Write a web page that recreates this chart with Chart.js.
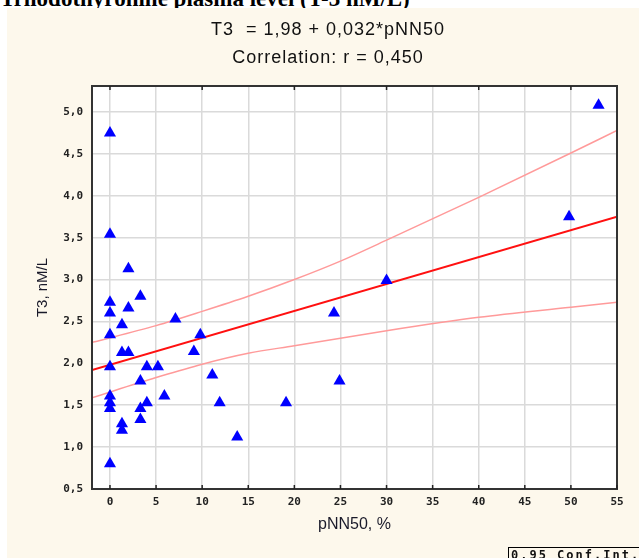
<!DOCTYPE html>
<html>
<head>
<meta charset="utf-8">
<script src="https://cdn.jsdelivr.net/npm/chart.js@4"></script>
<style>
  html, body { margin: 0; padding: 0; background: #fff; width: 639px; height: 558px; overflow: hidden; }
  #head { position: absolute; left: 0; top: -14px; font: bold 23px "Liberation Serif", serif; color: #000; white-space: nowrap; z-index: 0; }
  #wrap { position: absolute; left: 7px; top: 8px; width: 632px; height: 550px; background: #fdf8ec; z-index: 1; }
  #conf { position: absolute; left: 508px; top: 547px; border-top: 1px solid #000; border-left: 1px solid #000; padding: 0 0 0 2px; width: 140px;
          font: bold 12px "DejaVu Sans Mono", monospace; color: #111; z-index: 2; letter-spacing: 2px; line-height: 14px; }
</style>
</head>
<body>
<div id="head">Triiodothyronine plasma level (T-3 nM/L)</div>
<div id="wrap"><canvas id="c" width="632" height="550"></canvas></div>
<div id="conf">0,95 Conf.Int.</div>
<script>
const xTicks = [0, 5, 10, 15, 20, 25, 30, 35, 40, 45, 50, 55];
const yTicks = [0.5, 1.0, 1.5, 2.0, 2.5, 3.0, 3.5, 4.0, 4.5, 5.0];

// pNN50 (%) and T3 (nM/L) per patient
const pnn50 = [0, 0, 2.0, 0, 0, 3.3, 2.0, 1.3, 0, 7.1, 9.8, 1.3, 2.0, 9.1, 0, 4.0, 5.2, 3.3, 11.1,
  5.9, 0, 0, 0, 4.0, 3.3, 3.3, 11.9, 1.3, 1.3, 13.8, 0, 24.3, 24.9, 19.1, 30.0, 49.8, 53.0];
const t3 = [4.75, 3.54, 3.13, 2.73, 2.60, 2.80, 2.66, 2.46, 2.34, 2.53, 2.34, 2.13, 2.13, 2.14, 1.96, 1.96, 1.96, 1.79, 1.86,
  1.61, 1.61, 1.53, 1.46, 1.53, 1.46, 1.33, 1.53, 1.28, 1.20, 1.12, 0.80, 2.60, 1.79, 1.53, 2.99, 3.75, 5.08];

// regression line and 0.95 confidence band
const fitX = [-1.95, 55];
const fitY = [1.92, 3.75];
const bandX = [-1.95, 5, 10, 15, 20, 25, 30, 40, 50, 55];
const bandUpper = [2.25, 2.45, 2.62, 2.80, 3.00, 3.22, 3.47, 3.98, 4.51, 4.78];
const bandLower = [1.59, 1.83, 1.99, 2.12, 2.21, 2.30, 2.39, 2.55, 2.67, 2.73];

const pts = (xs, ys) => xs.map((x, i) => ({ x: x, y: ys[i] }));
const comma = v => String(v).replace('.', ',');

const frame = {
  id: 'frame',
  beforeDraw(chart) {
    const { ctx, chartArea: a } = chart;
    ctx.save();
    ctx.fillStyle = '#fff';
    ctx.fillRect(a.left, a.top, a.right - a.left, a.bottom - a.top);
    ctx.restore();
  },
  afterDraw(chart) {
    const { ctx, chartArea: a, scales } = chart;
    ctx.save();
    ctx.strokeStyle = '#333';
    ctx.lineWidth = 2;
    ctx.strokeRect(a.left, a.top, a.right - a.left, a.bottom - a.top);
    ctx.lineWidth = 1.5;
    ctx.strokeStyle = '#222';
    xTicks.forEach(v => {
      const px = scales.x.getPixelForValue(v);
      ctx.beginPath(); ctx.moveTo(px, a.bottom); ctx.lineTo(px, a.bottom - 4); ctx.stroke();
      if (v % 10 === 0) { ctx.beginPath(); ctx.moveTo(px, a.top); ctx.lineTo(px, a.top + 4); ctx.stroke(); }
    });
    ctx.fillStyle = '#111';
    ctx.textAlign = 'center';
    ctx.textBaseline = 'middle';
    ctx.font = '18px "Liberation Sans", Arial, sans-serif';
    ctx.letterSpacing = '1px';
    ctx.fillText('T3  = 1,98 + 0,032*pNN50', 321, 22);
    ctx.fillText('Correlation: r = 0,450', 321, 50);
    ctx.restore();
  }
};

new Chart(document.getElementById('c'), {
  type: 'scatter',
  data: {
    datasets: [
      { label: 'T3', data: pts(pnn50, t3), pointStyle: 'triangle', pointRadius: 7, backgroundColor: '#0000ff', borderColor: '#0000ff', borderWidth: 0, order: 0 },
      { label: 'fit', data: pts(fitX, fitY), showLine: true, pointRadius: 0, borderColor: '#ff1010', borderWidth: 2, order: 1 },
      { label: 'upper', data: pts(bandX, bandUpper), showLine: true, cubicInterpolationMode: 'monotone', pointRadius: 0, borderColor: '#ff9a9a', borderWidth: 1.5, order: 2 },
      { label: 'lower', data: pts(bandX, bandLower), showLine: true, cubicInterpolationMode: 'monotone', pointRadius: 0, borderColor: '#ff9a9a', borderWidth: 1.5, order: 2 }
    ]
  },
  options: {
    responsive: false,
    animation: false,
    layout: { padding: { left: 0, top: 78, right: 22, bottom: 0 } },
    plugins: { legend: { display: false }, tooltip: { enabled: false } },
    scales: {
      x: {
        min: -1.95, max: 55,
        afterBuildTicks: s => { s.ticks = xTicks.map(v => ({ value: v })); },
        afterFit: s => { s.height = 69; },
        grid: { color: '#dadada', lineWidth: 1.5, drawTicks: false },
        border: { display: false },
        ticks: { padding: 7, color: '#222', font: { family: 'DejaVu Sans Mono', weight: 'bold', size: 11 }, callback: v => comma(v) },
        title: { display: true, text: 'pNN50, %', color: '#1a1a2a', font: { family: 'Liberation Sans', size: 16 }, padding: { bottom: 24 } }
      },
      y: {
        min: 0.5, max: 5.31,
        afterBuildTicks: s => { s.ticks = yTicks.map(v => ({ value: v })); },
        afterFit: s => { s.width = 85; },
        grid: { color: '#dadada', lineWidth: 1.5, drawTicks: false },
        border: { display: false },
        ticks: { padding: 9, color: '#222', font: { family: 'DejaVu Sans Mono', weight: 'bold', size: 11 }, callback: v => comma(v.toFixed(1)) },
        title: { display: true, text: 'T3, nM/L', color: '#1a1a2a', font: { family: 'Liberation Sans', size: 15 }, padding: { top: 27 } }
      }
    }
  },
  plugins: [frame]
});
</script>
</body>
</html>
